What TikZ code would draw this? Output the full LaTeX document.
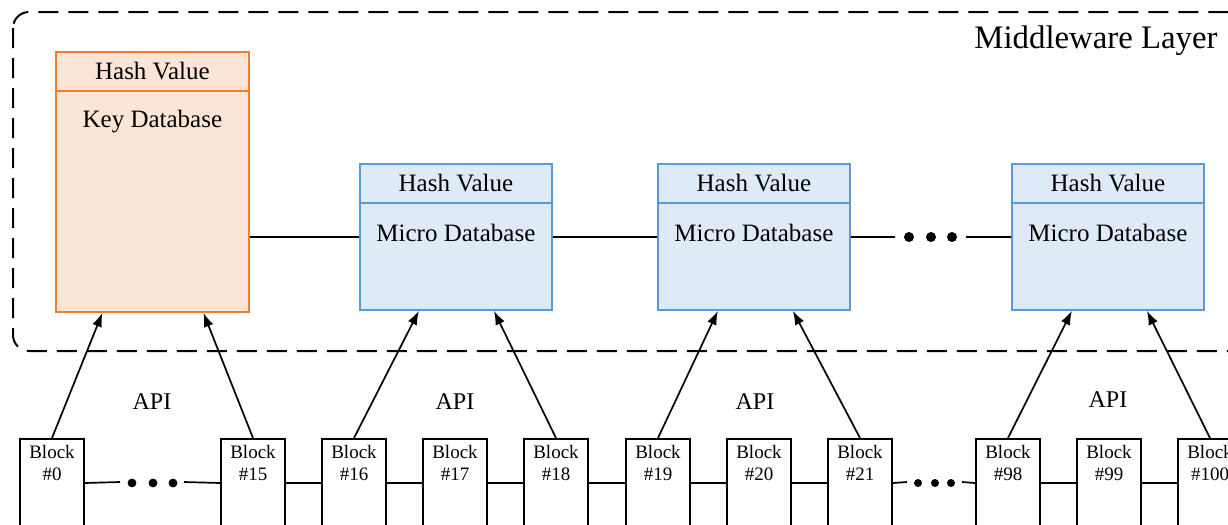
\documentclass[tikz,border=0pt]{standalone}
\usepackage{fontspec}
\setmainfont{Liberation Serif}
\usetikzlibrary{arrows.meta,calc}
\definecolor{orborder}{HTML}{ED7D31}
\definecolor{orfill}{HTML}{FBE5D6}
\definecolor{blborder}{HTML}{5B9BD5}
\definecolor{blfill}{HTML}{DEEBF7}
\tikzset{
  keybox/.style={draw=orborder,fill=orfill,line width=0.9pt,minimum width=96.5pt,minimum height=130pt,anchor=north west,inner sep=0pt},
  keyhead/.style={draw=orborder,line width=0.9pt,minimum width=96.5pt,minimum height=19.5pt,anchor=north west,inner sep=0pt,font=\fontsize{12.5pt}{14pt}\selectfont},
  microbox/.style={draw=blborder,fill=blfill,line width=0.9pt,minimum width=96pt,minimum height=73pt,anchor=north west,inner sep=0pt},
  microhead/.style={draw=blborder,line width=0.9pt,minimum width=96pt,minimum height=19.5pt,anchor=north west,inner sep=0pt,font=\fontsize{12.5pt}{14pt}\selectfont},
  bodytext/.style={font=\fontsize{12.5pt}{14pt}\selectfont,inner sep=0pt},
  blockbox/.style={draw,line width=1pt,fill=white,minimum width=32pt,minimum height=44pt,anchor=north,inner sep=0pt},
  blocktext/.style={font=\fontsize{9.5pt}{11pt}\selectfont,align=center,anchor=north,inner sep=3.5pt},
  apitext/.style={font=\fontsize{12pt}{14pt}\selectfont,inner sep=0pt},
  link/.style={line width=0.85pt},
  apiarrow/.style={line width=0.85pt,-{Latex[length=7pt,width=5pt]}},
  dotmark/.style={fill=black,draw=none},
}
\begin{document}
\begin{tikzpicture}[x=0.5pt,y=-0.5pt]
\useasboundingbox (0,0) rectangle (1228,525);
\clip (0,0) rectangle (1228,525);
% middleware layer
\draw[line width=1pt,dash pattern=on 10pt off 5pt,rounded corners=8pt] (13,12) rectangle (1260,351);
\node[font=\fontsize{16.4pt}{18pt}\selectfont,anchor=east,inner sep=0pt] (mwl) at (1218,41) {Middleware Layer};
% key database
\node[keybox] (kdb) at (55,51) {};
\node[keyhead] (kh) at (kdb.north west) {Hash Value};
\node[bodytext] (kt) at ($(kh.south)+(0,30)$) {Key Database};
% micro databases
\foreach \n/\x in {m1/359,m2/657,m3/1011}{
  \node[microbox] (\n) at (\x,163) {};
  \node[microhead] (\n h) at (\n.north west) {Hash Value};
  \node[bodytext] (\n t) at ($(\n h.south)+(0,29)$) {Micro Database};
}
% top chain
\coordinate (tdl) at (895,237);
\coordinate (tdr) at (966,237);
\draw[link] (m1.west) -- (m1.west -| kdb.east);
\draw[link] (m1.east) -- (m2.west);
\draw[link] (m2.east) -- (tdl);
\draw[link] (tdr) -- (m3.west);
\foreach \x in {909,931,952} \fill[dotmark] (\x,237) circle (2.5pt);
% blocks
\foreach \n/\x/\t in {b0/52/0,b15/253/15,b16/354/16,b17/455/17,b18/556/18,b19/658/19,b20/759/20,b21/860/21,b98/1008/98,b99/1109/99,b100/1210/100}{
  \node[blockbox] (\n) at (\x,438) {};
  \node[blocktext] (\n t) at (\n.north) {Block\\\#\t};
}
% bottom chain
\coordinate (bdl1) at (120,482);
\coordinate (bdr1) at (184,482);
\coordinate (bdl2) at (907,482);
\coordinate (bdr2) at (962,482);
\draw[link] (b0.east) -- (bdl1);
\draw[link] (bdr1) -- (b15.west);
\foreach \a/\b in {b15/b16,b16/b17,b17/b18,b18/b19,b19/b20,b20/b21,b98/b99,b99/b100}
  \draw[link] (\a.east) -- (\b.west);
\draw[link] (b21.east) -- (bdl2);
\draw[link] (bdr2) -- (b98.west);
\foreach \x in {132,153,173} \fill[dotmark] (\x,483) circle (2.2pt);
\foreach \x in {918,935,951} \fill[dotmark] (\x,483) circle (2pt);
% API arrows
\draw[apiarrow] (b0.north) -- ($(kdb.south)+(-50,0)$);
\draw[apiarrow] (b15.north) -- ($(kdb.south)+(51,0)$);
\draw[apiarrow] (b16.north) -- ($(m1.south)+(-37,0)$);
\draw[apiarrow] (b18.north) -- ($(m1.south)+(38,0)$);
\draw[apiarrow] (b19.north) -- ($(m2.south)+(-36,0)$);
\draw[apiarrow] (b21.north) -- ($(m2.south)+(39,0)$);
\draw[apiarrow] (b98.north) -- ($(m3.south)+(-36,0)$);
\draw[apiarrow] (b100.north) -- ($(m3.south)+(39,0)$);
% API labels
\node[apitext] (api1) at (152,402) {API};
\node[apitext] (api2) at (455,402) {API};
\node[apitext] (api3) at (755,402) {API};
\node[apitext] (api4) at (1108,400) {API};
\end{tikzpicture}
\end{document}
